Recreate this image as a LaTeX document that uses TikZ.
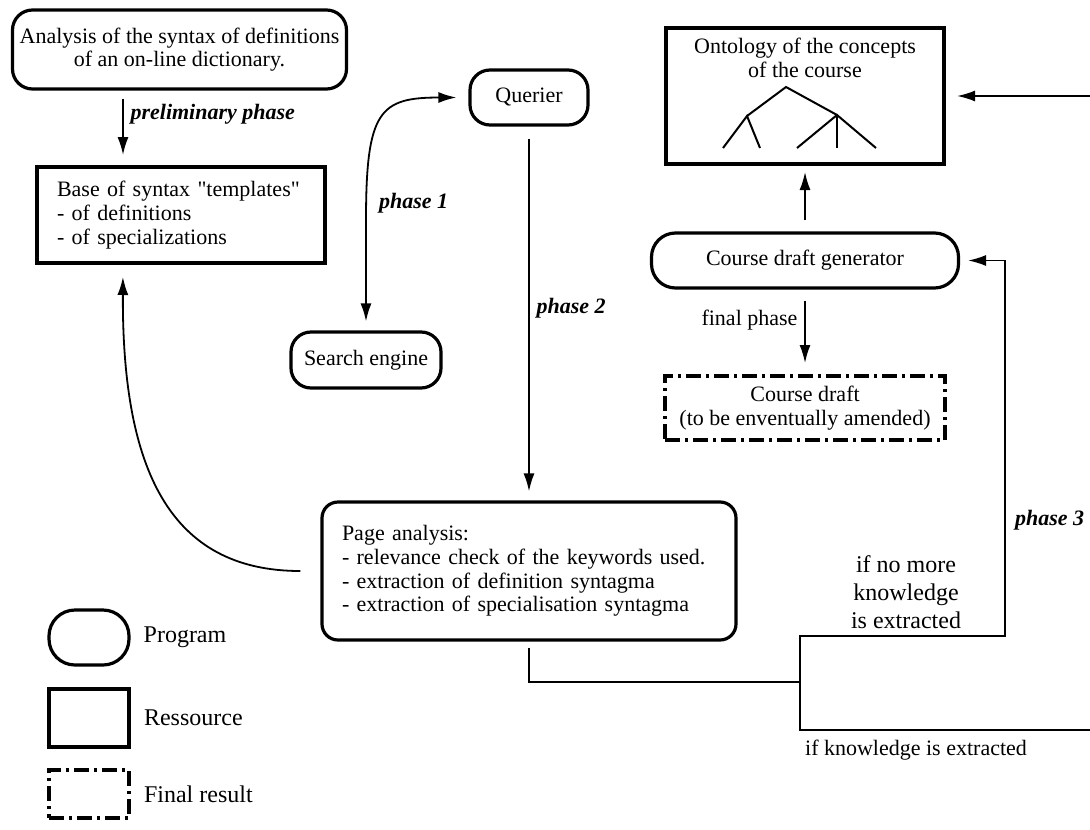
\documentclass[tikz,border=0pt]{standalone}
\usepackage{fontspec}
\setmainfont{Liberation Serif}
\usetikzlibrary{arrows.meta, positioning, calc}

\begin{document}
\begin{tikzpicture}[x=0.5pt, y=-0.5pt,
	font=\fontsize{11}{11.8}\selectfont,
	prog/.style={rectangle, rounded corners=10pt, draw, line width=1.6pt, align=center},
	res/.style={rectangle, draw, line width=2pt},
	final/.style={rectangle, draw, line width=2pt, dash pattern=on 7.5pt off 2.5pt on 1.5pt off 2.5pt},
	arr/.style={-{Latex[length=9pt, width=5.5pt]}, line width=0.9pt},
	biarr/.style={{Latex[length=9pt, width=5.5pt]}-{Latex[length=9pt, width=5.5pt]}, line width=0.9pt},
	wire/.style={line width=0.8pt},
	phase/.style={font=\fontsize{11}{12}\selectfont\bfseries\itshape}]
		
		\useasboundingbox (0,0) rectangle (1090,829);
		
		\node[prog, minimum width=167pt, minimum height=39.5pt] (ana) at (179.5,49.5) {Analysis of the syntax of definitions\\of an on-line dictionary.};
		\node[res, text width=124pt, inner xsep=10pt, minimum height=48pt, align=left] (base) at (181,215) {Base of syntax \textquotedbl templates\textquotedbl\\- of definitions\\- of specializations};
		\node[prog, minimum width=59pt, minimum height=27.5pt] (q) at (529,97.5) {Querier};
		\node[prog, minimum width=75pt, minimum height=28pt] (se) at (366,360) {Search engine};
		\node[prog, rounded corners=8pt, text width=187pt, inner xsep=10pt, minimum height=69pt, align=left] (pa) at (529,571) {Page analysis:\\- relevance check of the keywords used.\\- extraction of definition syntagma\\- extraction of specialisation syntagma};
		
		\node[res, minimum width=139pt, minimum height=68pt] (onto) at (805,96) {};
		\node[below=2.5pt of onto.north, align=center] (ontotxt) {Ontology of the concepts\\of the course};
		\node[prog, rounded corners=12pt, minimum width=153.5pt, minimum height=27.5pt] (cdg) at (805,260.5) {Course draft generator};
		\node[final, minimum width=140pt, minimum height=32pt, align=center] (draft) at (805,408) {Course draft\\(to be enventually amended)};
		
		% small tree in the ontology box
		\coordinate (root) at (786,87);
		\coordinate (lt) at (747,116);
		\coordinate (rt) at (837,115);
		\draw[line width=1pt] (lt) -- (root) -- (rt);
		\draw[line width=1pt] (723,148) -- (lt) -- (760,148);
		\draw[line width=1pt] (797,148) -- (rt) -- (876,148);
		\draw[line width=1pt] (rt) -- (837,148);
		
		% legend
		\node[prog, rounded corners=13pt, minimum width=40pt, minimum height=27.5pt] (lgprog) at (89,637.5) {};
		\node[right=3pt of lgprog, font=\fontsize{12}{13}\selectfont] (lgprogtxt) {Program};
		\node[res, minimum width=40pt, minimum height=29pt] (lgres) at (89,718) {};
		\node[right=3pt of lgres, font=\fontsize{12}{13}\selectfont] (lgrestxt) {Ressource};
		\node[final, minimum width=40pt, minimum height=24pt] (lgfin) at (89,794) {};
		\node[right=3pt of lgfin, font=\fontsize{12}{13}\selectfont] (lgfintxt) {Final result};
		
		\coordinate (jn) at (800,682);
		\coordinate (up) at (1005,636);
		\coordinate (edgeT) at (1090,96);
		\coordinate (edgeB) at (1090,730);
		
		\draw[arr, shorten <=4pt, shorten >=5pt] ([xshift=-28.25pt]ana.south) -- ([xshift=-29pt]base.north) node[pos=0.32, right, phase] (pre) {preliminary phase};
		\draw[biarr, shorten <=4.5pt, shorten >=6pt] (se.north) -- (366,220) .. controls (366,110) and (380,97.5) .. (440,97.5) -- (q.west);
		\node[phase, anchor=west] (ph1) at (372,203) {phase 1};
		\draw[arr, shorten <=6pt, shorten >=4.5pt] (q.south) -- (pa.north) node[pos=0.485, right, phase] (ph2) {phase 2};
		\draw[arr, shorten >=6pt] ([xshift=-10pt]pa.west) .. controls (170,571) and (122,470) .. ([xshift=-29pt]base.south);
		
		\draw[arr, shorten <=5.5pt, shorten >=3pt] (cdg.north) -- (onto.south);
		\draw[arr, shorten <=5.5pt, shorten >=5.5pt] (cdg.south) -- (draft.north) node[pos=0.36, left] (fin) {final phase};
		\draw[arr, shorten >=5.5pt] (edgeT) -- (onto.east);
		
		\draw[wire] ([yshift=-3pt]pa.south) |- (jn);
		\draw[arr, line width=0.8pt, shorten >=4pt] (jn) |- (up) |- (cdg.east);
		\draw[wire] (jn) |- (edgeB);
		\node[phase, anchor=west] (ph3) at (1008,520) {phase 3};
		\node[align=center, font=\fontsize{12}{14}\selectfont] (nomore) at (906,592) {if no more\\knowledge\\is extracted};
		\node[font=\fontsize{11}{12}\selectfont] (know) at (916,750) {if knowledge is extracted};
	\end{tikzpicture}
\end{document}
